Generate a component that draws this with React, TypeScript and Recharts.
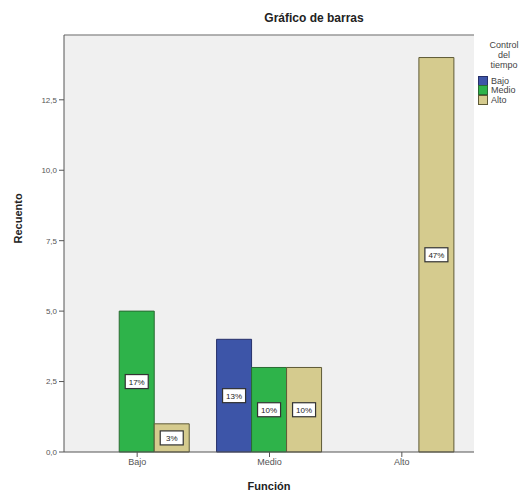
import {
  Bar,
  BarChart,
  CartesianGrid,
  LabelList,
  ReferenceLine,
  XAxis,
  YAxis
} from "recharts";

const categories = ["Bajo", "Medio", "Alto"];
const bajo = [0, 4, 0];
const medio = [5, 3, 0];
const alto = [1, 3, 14];
const bajoPct = ["", "13%", ""];
const medioPct = ["17%", "10%", ""];
const altoPct = ["3%", "10%", "47%"];
const yTicks = [0, 2.5, 5, 7.5, 10, 12.5];

const data = categories.map((c, i) => ({
  funcion: c,
  Bajo: bajo[i],
  Medio: medio[i],
  Alto: alto[i],
  BajoPct: bajoPct[i],
  MedioPct: medioPct[i],
  AltoPct: altoPct[i]
}));

const series = [
  { key: "Bajo", fill: "#3d55a8", stroke: "#27306a" },
  { key: "Medio", fill: "#2eb34a", stroke: "#2a6a33" },
  { key: "Alto", fill: "#d5cb8e", stroke: "#5e5a36" }
];

const font = "'Liberation Sans', Arial, sans-serif";

function PctLabel(props: any) {
  const { x, y, width, height, value } = props;
  if (!value) return null;
  const cx = x + width / 2;
  const cy = y + height / 2;
  return (
    <g>
      <rect x={cx - 11.5} y={cy - 7} width={23} height={14} fill="#fff" stroke="#333" strokeWidth={1.2} />
      <text x={cx} y={cy + 3} textAnchor="middle" fontSize={8} fill="#222" fontFamily={font}>
        {value}
      </text>
    </g>
  );
}

function LegendBox() {
  return (
    <div
      style={{
        position: "absolute",
        left: 478,
        top: 40,
        width: 50,
        fontFamily: font,
        fontSize: 9,
        color: "#444"
      }}
    >
      <div style={{ textAlign: "center", lineHeight: "10px", marginLeft: 2 }}>
        Control
        <br />
        del
        <br />
        tiempo
      </div>
      <div style={{ marginTop: 6 }}>
        {series.map((s) => (
          <div key={s.key} style={{ display: "flex", alignItems: "center", height: 9.5 }}>
            <span
              style={{
                display: "inline-block",
                width: 8,
                height: 8,
                background: s.fill,
                border: `1px solid ${s.stroke}`,
                marginRight: 3
              }}
            />
            {s.key}
          </div>
        ))}
      </div>
    </div>
  );
}

export default function App() {
  return (
    <div style={{ position: "absolute", left: 0, top: 0, width: 523, height: 496, background: "#fff" }}>
      <BarChart
        width={523}
        height={496}
        data={data}
        margin={{ top: 35, right: 49, bottom: 0, left: 0 }}
        barGap={0}
        barCategoryGap="10%"
      >
        <text x={314} y={22} textAnchor="middle" fontSize={12} fontWeight="bold" fill="#222" fontFamily={font}>
          Gráfico de barras
        </text>
        <CartesianGrid fill="#f0f0f0" horizontal={false} vertical={false} />
        <XAxis
          dataKey="funcion"
          height={44}
          padding={{ left: 7, right: 6 }}
          tickSize={5}
          tick={{ fontSize: 9, fill: "#555", fontFamily: font }}
          stroke="#555"
          label={{ value: "Función", position: "insideBottom", offset: 6, fontSize: 11, fontWeight: "bold", fill: "#222", fontFamily: font }}
        />
        <YAxis
          width={64}
          domain={[0, 14.8]}
          ticks={yTicks}
          tickFormatter={(v: number) => v.toFixed(1).replace(".", ",")}
          tickSize={5}
          tick={{ fontSize: 8, fill: "#555", fontFamily: font }}
          stroke="#555"
          label={{ value: "Recuento", angle: -90, position: "insideLeft", offset: 18, fontSize: 11, fontWeight: "bold", fill: "#222", fontFamily: font }}
        />
        <YAxis yAxisId="frame" orientation="right" width={0} tick={false} stroke="#999" />
        <ReferenceLine y={14.8} stroke="#999" strokeWidth={1.5} />
        {series.map((s) => (
          <Bar
            key={s.key}
            dataKey={s.key}
            fill={s.fill}
            stroke={s.stroke}
            strokeWidth={1}
            isAnimationActive={false}
          >
            <LabelList dataKey={`${s.key}Pct`} content={PctLabel} />
          </Bar>
        ))}
      </BarChart>
      <LegendBox />
    </div>
  );
}
